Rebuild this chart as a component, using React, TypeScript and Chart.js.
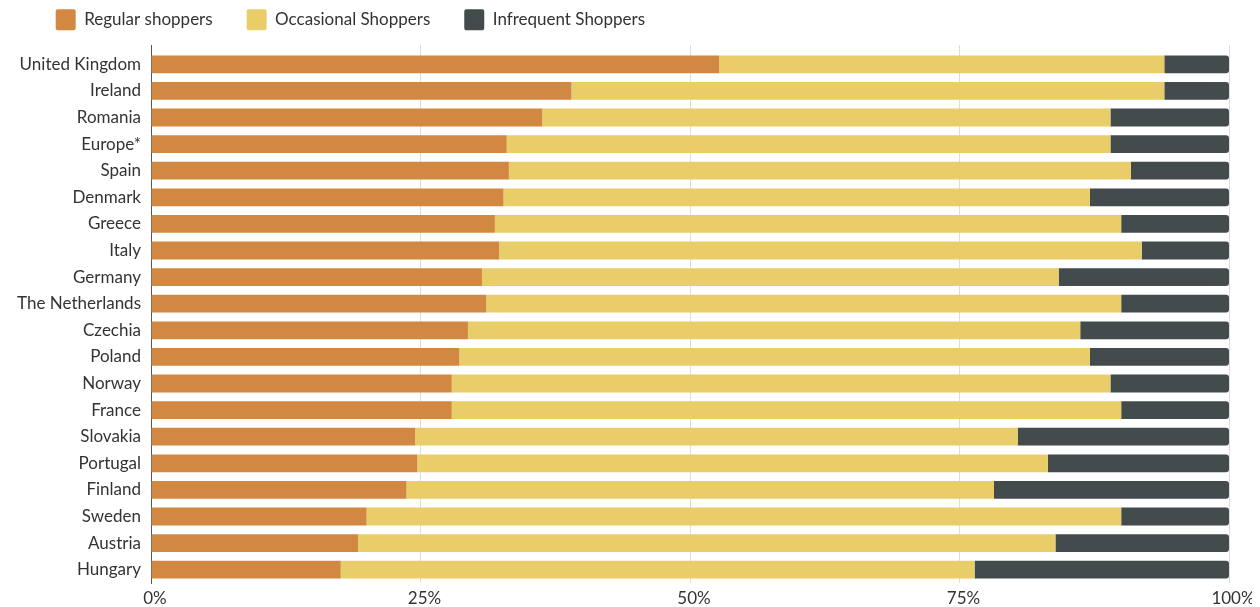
import React, { useEffect, useRef } from "react";
import { Chart, registerables } from "chart.js";

Chart.register(...registerables);

const categories = [
  "United Kingdom", "Ireland", "Romania", "Europe*", "Spain", "Denmark", "Greece", "Italy",
  "Germany", "The Netherlands", "Czechia", "Poland", "Norway", "France", "Slovakia",
  "Portugal", "Finland", "Sweden", "Austria", "Hungary",
];

const regularShoppers = [52.7, 39.0, 36.3, 33.0, 33.2, 32.7, 31.9, 32.3, 30.7, 31.1, 29.4, 28.6, 27.9, 27.9, 24.5, 24.7, 23.7, 20.0, 19.2, 17.6];
const occasionalShoppers = [41.3, 55.0, 52.7, 56.0, 57.7, 54.4, 58.1, 59.6, 53.5, 58.9, 56.8, 58.5, 61.1, 62.1, 55.9, 58.5, 54.5, 70.0, 64.7, 58.8];
const infrequentShoppers = [6.0, 6.0, 11.0, 11.0, 9.1, 12.9, 10.0, 8.1, 15.8, 10.0, 13.8, 12.9, 11.0, 10.0, 19.6, 16.8, 21.8, 10.0, 16.1, 23.6];

const seriesNames = ["Regular shoppers", "Occasional Shoppers", "Infrequent Shoppers"];
const xTicks = [0, 25, 50, 75, 100];

const COLORS = ["#D38841", "#E9CD69", "#444B4D"];
const TEXT = "#333333";
const GRID = "#DDDDDD";
const AXIS = "#555555";

const legendShift = {
  id: "legendShift",
  afterLayout(chart: any) {
    const lg = chart.legend;
    if (lg) {
      lg.top -= 4.7;
      lg.bottom -= 4.7;
      lg.left += 13.7;
    }
  },
};

export default function App() {
  const ref = useRef<HTMLCanvasElement | null>(null);

  useEffect(() => {
    document.documentElement.style.overflow = "hidden";
    if (!ref.current) return;
    Chart.defaults.font.family = "Lato, 'Noto Sans', sans-serif";
    Chart.defaults.font.size = 17;
    Chart.defaults.color = TEXT;

    const chart = new Chart(ref.current, {
      type: "bar",
      data: {
        labels: categories,
        datasets: [
          { label: seriesNames[0], data: regularShoppers, backgroundColor: COLORS[0], borderWidth: 0 },
          { label: seriesNames[1], data: occasionalShoppers, backgroundColor: COLORS[1], borderWidth: 0 },
          {
            label: seriesNames[2],
            data: infrequentShoppers,
            backgroundColor: COLORS[2],
            borderWidth: 0,
            borderRadius: { topLeft: 0, bottomLeft: 0, topRight: 3, bottomRight: 3 },
            borderSkipped: "start",
          },
        ],
      },
      options: {
        indexAxis: "y",
        animation: false,
        responsive: true,
        maintainAspectRatio: false,
        categoryPercentage: 1,
        barPercentage: 0.67,
        layout: { padding: { top: -28, left: 0, right: 0, bottom: 0 } },
        plugins: {
          legend: {
            position: "top",
            align: "start",
            labels: {
              boxWidth: 20,
              boxHeight: 21,
              padding: 34,
              useBorderRadius: true,
              borderRadius: 2,
              color: TEXT,
              font: { size: 17 },
            },
          },
          tooltip: { enabled: false },
          title: { display: false },
        },
        scales: {
          x: {
            type: "linear",
            stacked: true,
            min: 0,
            max: 100,
            afterBuildTicks: (scale: any) => {
              scale.ticks = xTicks.map((v) => ({ value: v }));
            },
            afterFit: (scale: any) => {
              scale.height = 24;
              scale.paddingRight = 31;
            },
            ticks: {
              callback: (v: any) => `${v}%`,
              padding: 5,
              labelOffset: 4,
              color: TEXT,
              font: { size: 17 },
              maxRotation: 0,
            },
            grid: { color: GRID, drawTicks: false, lineWidth: 1 },
            border: { display: false },
          },
          x2: {
            type: "linear",
            position: "top",
            min: 0,
            max: 100,
            afterBuildTicks: (scale: any) => {
              scale.ticks = xTicks.map((v) => ({ value: v }));
            },
            ticks: { display: false },
            grid: {
              drawOnChartArea: false,
              drawTicks: true,
              tickLength: 6,
              color: (ctx: any) => (ctx.tick && ctx.tick.value === 0 ? AXIS : GRID),
            },
            border: { display: false },
          },
          y: {
            stacked: true,
            afterFit: (scale: any) => {
              scale.width = 143;
            },
            ticks: { padding: 10, color: TEXT, font: { size: 17 } },
            grid: { display: false, drawTicks: false },
            border: { display: true, color: AXIS, width: 1 },
          },
        },
      },
      plugins: [legendShift],
    } as any);

    return () => chart.destroy();
  }, []);

  return (
    <div style={{ position: "relative", width: "1252px", height: "599px" }}>
      <canvas ref={ref} />
    </div>
  );
}
